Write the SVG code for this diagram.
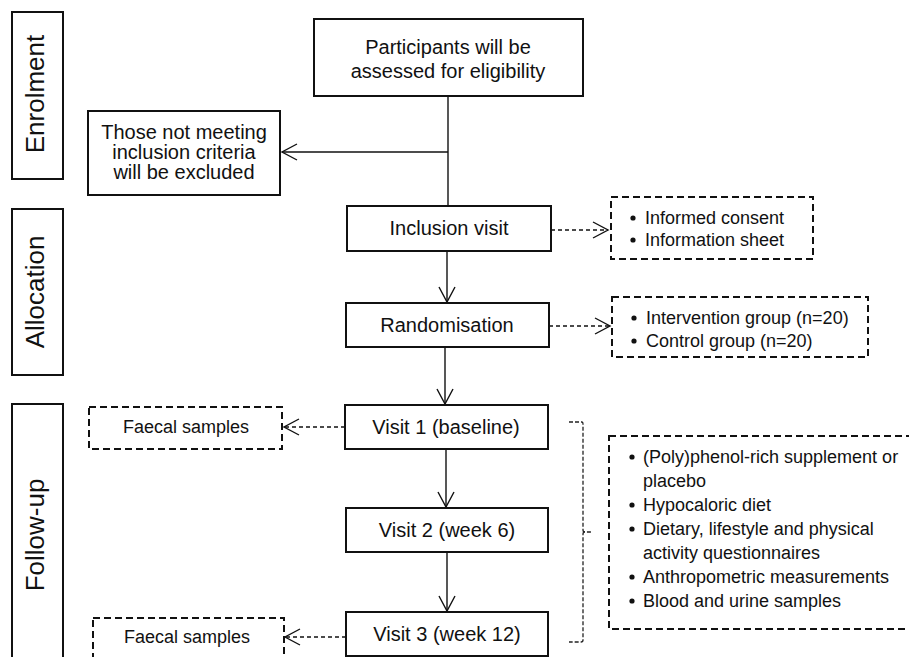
<svg xmlns="http://www.w3.org/2000/svg" width="909" height="657" viewBox="0 0 909 657">
<defs>
<style>
text{font-family:"Liberation Sans",Arial,sans-serif;fill:#111}
.box{fill:#fff;stroke:#111;stroke-width:2}
.dbox{fill:#fff;stroke:#111;stroke-width:2;stroke-dasharray:7,4}
.lbl{font-size:20px;text-anchor:middle}
.side{font-size:26px;text-anchor:middle}
.sm{font-size:18px}
.smc{font-size:18px;text-anchor:middle}
.ln{fill:none;stroke:#111;stroke-width:1.4}
.dl{fill:none;stroke:#111;stroke-width:1.3;stroke-dasharray:4,3}
.br{fill:none;stroke:#222;stroke-width:1.3;stroke-dasharray:4,2}
.ah{fill:none;stroke:#111;stroke-width:1.4}
</style>
<marker id="arr" markerUnits="userSpaceOnUse" markerWidth="20" markerHeight="20" refX="15" refY="8" orient="auto" overflow="visible">
<path class="ah" d="M0,0 L15,8 L0,16"/>
</marker>
</defs>

<g id="phase-enrolment">
<rect class="box" x="12" y="12" width="51" height="167"/>
<text class="side" transform="translate(44,94) rotate(-90)">Enrolment</text>
</g>
<g id="phase-allocation">
<rect class="box" x="12" y="209" width="51" height="166"/>
<text class="side" transform="translate(44,292) rotate(-90)">Allocation</text>
</g>
<g id="phase-followup">
<rect class="box" x="12" y="404" width="51" height="270"/>
<text class="side" transform="translate(44,535) rotate(-90)">Follow-up</text>
</g>

<g id="connectors">
<path class="ln" d="M448,96 V205" />
<path class="ln" d="M448,152 H282" marker-end="url(#arr)"/>
<path class="ln" d="M447,251 V302" marker-end="url(#arr)"/>
<path class="ln" d="M445,347 V404" marker-end="url(#arr)"/>
<path class="ln" d="M446,449 V507" marker-end="url(#arr)"/>
<path class="ln" d="M447,552 V611" marker-end="url(#arr)"/>
<path class="dl" d="M551,230 H608" marker-end="url(#arr)"/>
<path class="dl" d="M549,326 H610" marker-end="url(#arr)"/>
<path class="dl" d="M345,427 H284" marker-end="url(#arr)"/>
<path class="dl" d="M346,637 H285" marker-end="url(#arr)"/>
<path class="br" d="M569,422 H582 Q583,422 583,424 V530 Q583,532 585,532 H592 M585,532 Q583,532 583,534 V640 Q583,642 581,642 H569"/>
</g>

<g id="participants">
<rect class="box" x="314" y="19" width="269" height="77"/>
<text class="lbl" x="448" y="54">Participants will be</text>
<text class="lbl" x="448" y="78">assessed for eligibility</text>
</g>
<g id="excluded">
<rect class="box" x="88" y="111" width="192" height="84"/>
<text class="lbl" x="184" y="139">Those not meeting</text>
<text class="lbl" x="184" y="159">inclusion criteria</text>
<text class="lbl" x="184" y="179">will be excluded</text>
</g>
<g id="inclusion">
<rect class="box" x="347" y="206" width="204" height="45"/>
<text class="lbl" x="449" y="235">Inclusion visit</text>
</g>
<g id="randomisation">
<rect class="box" x="346" y="303" width="203" height="44"/>
<text class="lbl" x="447" y="332">Randomisation</text>
</g>
<g id="visit1">
<rect class="box" x="345" y="405" width="203" height="44"/>
<text class="lbl" x="446" y="434">Visit 1 (baseline)</text>
</g>
<g id="visit2">
<rect class="box" x="346" y="508" width="202" height="44"/>
<text class="lbl" x="447" y="537">Visit 2 (week 6)</text>
</g>
<g id="visit3">
<rect class="box" x="346" y="612" width="202" height="44"/>
<text class="lbl" x="447" y="641">Visit 3 (week 12)</text>
</g>

<g id="consent">
<rect class="dbox" x="611" y="197" width="202" height="62"/>
<circle cx="633" cy="218" r="2.6" fill="#111"/>
<text class="sm" x="645" y="224">Informed consent</text>
<circle cx="633" cy="240" r="2.6" fill="#111"/>
<text class="sm" x="645" y="246">Information sheet</text>
</g>
<g id="groups">
<rect class="dbox" x="612" y="297" width="256" height="60"/>
<circle cx="634" cy="318" r="2.6" fill="#111"/>
<text class="sm" x="646" y="324">Intervention group (n=20)</text>
<circle cx="634" cy="341" r="2.6" fill="#111"/>
<text class="sm" x="646" y="347">Control group (n=20)</text>
</g>
<g id="faecal1">
<rect class="dbox" x="89" y="407" width="193" height="42"/>
<text class="smc" x="186" y="433">Faecal samples</text>
</g>
<g id="faecal2">
<rect class="dbox" x="93" y="618" width="191" height="50"/>
<text class="smc" x="187" y="643">Faecal samples</text>
</g>
<g id="procedures">
<rect class="dbox" x="609" y="436" width="310" height="193"/>
<circle cx="632" cy="457" r="2.6" fill="#111"/>
<text class="sm" x="643" y="463">(Poly)phenol-rich supplement or</text>
<text class="sm" x="643" y="487">placebo</text>
<circle cx="632" cy="505" r="2.6" fill="#111"/>
<text class="sm" x="643" y="511">Hypocaloric diet</text>
<circle cx="632" cy="529" r="2.6" fill="#111"/>
<text class="sm" x="643" y="535">Dietary, lifestyle and physical</text>
<text class="sm" x="643" y="559">activity questionnaires</text>
<circle cx="632" cy="577" r="2.6" fill="#111"/>
<text class="sm" x="643" y="583">Anthropometric measurements</text>
<circle cx="632" cy="601" r="2.6" fill="#111"/>
<text class="sm" x="643" y="607">Blood and urine samples</text>
</g>
</svg>
